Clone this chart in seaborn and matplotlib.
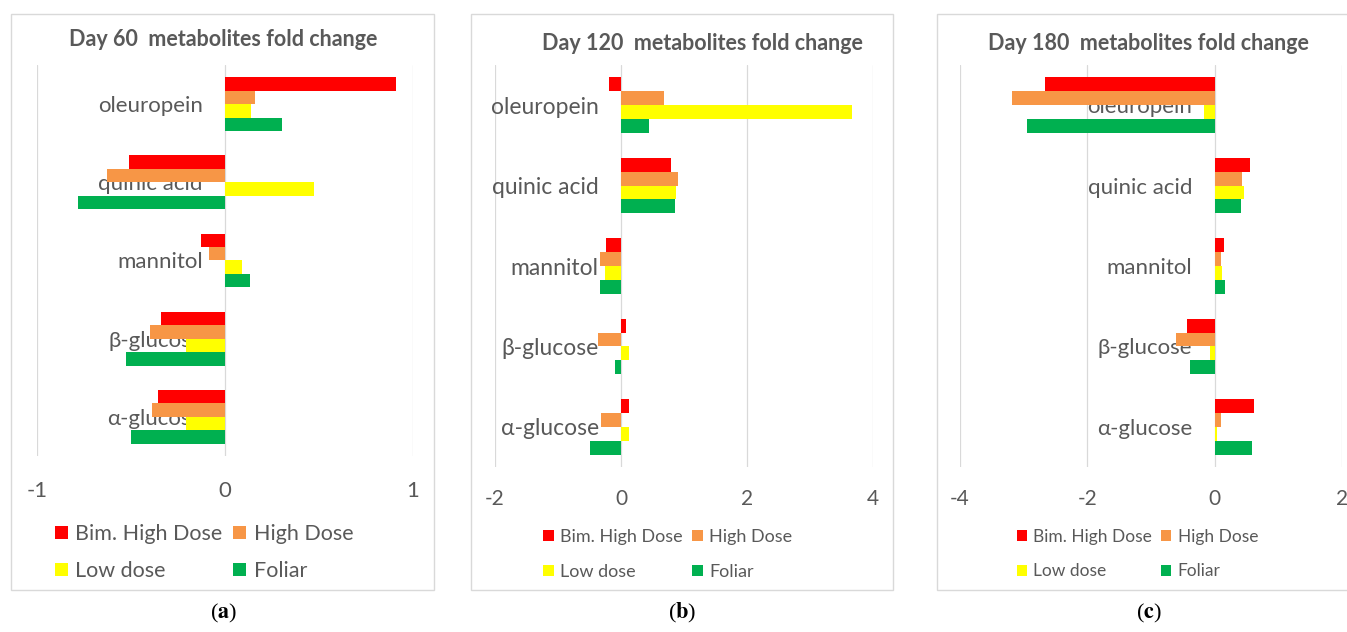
import numpy as np
import pandas as pd
import matplotlib
matplotlib.use("Agg")
import matplotlib.pyplot as plt
import seaborn as sns
from matplotlib.patches import Rectangle, Patch

# categories (top to bottom) and treatments
metabolites = ['oleuropein', 'quinic acid', 'mannitol', 'β-glucose', 'α-glucose']
treatments = ['Bim. High Dose', 'High Dose', 'Low dose', 'Foliar']
colors = ['#FF0000', '#F79646', '#FFFF00', '#00B050']

# Day 60 fold change
d60_bim = [0.91, -0.51, -0.13, -0.34, -0.355]
d60_high = [0.16, -0.63, -0.085, -0.40, -0.39]
d60_low = [0.14, 0.475, 0.09, -0.21, -0.21]
d60_foliar = [0.305, -0.78, 0.135, -0.525, -0.50]

# Day 120 fold change
d120_bim = [-0.19, 0.80, -0.24, 0.085, 0.12]
d120_high = [0.68, 0.91, -0.34, -0.36, -0.31]
d120_low = [3.66, 0.87, -0.25, 0.12, 0.12]
d120_foliar = [0.44, 0.86, -0.33, -0.095, -0.50]

# Day 180 fold change
d180_bim = [-2.67, 0.56, 0.15, -0.44, 0.62]
d180_high = [-3.18, 0.43, 0.095, -0.60, 0.105]
d180_low = [-0.16, 0.46, 0.115, -0.074, 0.04]
d180_foliar = [-2.94, 0.41, 0.17, -0.39, 0.59]

x_ticks_60 = [-1, 0, 1]
x_ticks_120 = [-2, 0, 2, 4]
x_ticks_180 = [-4, -2, 0, 2]

W, H = 1347, 632
TEXT = '#595959'
GRID = '#D9D9D9'

sns.set_theme(style="white")
plt.rcParams['font.family'] = ['Lato', 'DejaVu Sans']
plt.rcParams['mathtext.fontset'] = 'stix'


def make_frame(bim, high, low, foliar):
    return pd.DataFrame({
        'metabolite': metabolites * 4,
        'value': bim + high + low + foliar,
        'treatment': np.repeat(treatments, len(metabolites)),
    })


def px_axes(fig, x0, x1, y0, y1):
    # pixel box (top-left origin) -> figure fraction
    return fig.add_axes([x0 / W, 1 - y1 / H, (x1 - x0) / W, (y1 - y0) / H])


def draw_panel(fig, df, box, frame, xticks, title, title_xy, ylab_size,
               xlab_size, xpad, legend_xy, legend_size, legend_rows, letter, letter_x):
    fx0, fx1 = frame
    fig.patches.append(Rectangle((fx0 / W, 1 - 590 / H), (fx1 - fx0) / W, 576 / H,
                                 transform=fig.transFigure, facecolor='white',
                                 edgecolor=GRID, linewidth=1.0, zorder=-5))
    ax = px_axes(fig, *box)
    ax.set_facecolor('none')
    sns.barplot(data=df, x='value', y='metabolite', hue='treatment',
                order=metabolites, hue_order=treatments, palette=colors,
                orient='h', width=0.69, saturation=1, linewidth=0,
                errorbar=None, legend=False, ax=ax)
    ax.set_xlim(xticks[0], xticks[-1])
    ax.set_xticks(xticks)
    ax.set_xticklabels([str(t) for t in xticks])
    ax.grid(axis='x', color=GRID, linewidth=0.9)
    ax.set_axisbelow(True)
    for s in ax.spines.values():
        s.set_visible(False)
    ax.spines['left'].set_position(('data', 0))
    ax.tick_params(axis='y', length=0, pad=16, labelsize=ylab_size, labelcolor=TEXT)
    ax.tick_params(axis='x', length=0, pad=xpad, labelsize=xlab_size, labelcolor=TEXT)
    ax.set_xlabel('')
    ax.set_ylabel('')

    fig.text(title_xy[0] / W, 1 - title_xy[1] / H, title, ha='center', va='center',
             fontsize=15.5, fontweight='bold', color=TEXT)

    handles = [Patch(facecolor=c, edgecolor='none') for c in colors]
    order = [0, 2, 1, 3]
    fig.legend([handles[i] for i in order], [treatments[i] for i in order],
               loc='upper left', bbox_to_anchor=(legend_xy[0] / W, 1 - legend_xy[1] / H),
               ncol=2, frameon=False, fontsize=legend_size, labelcolor=TEXT,
               handlelength=0.6, handleheight=0.6, handletextpad=0.35,
               columnspacing=0.5, labelspacing=legend_rows, borderpad=0, borderaxespad=0)

    fig.text(letter_x / W, 1 - 613 / H, r'($\mathbf{' + letter + r'}$)', ha='center',
             va='center', fontsize=16, family='Liberation Serif', color='black')
    return ax


fig = plt.figure(figsize=(W / 100, H / 100), dpi=100)
fig.patch.set_facecolor('white')

draw_panel(fig, make_frame(d60_bim, d60_high, d60_low, d60_foliar),
           (37, 413, 65, 456), (11, 434), x_ticks_60,
           'Day 60  metabolites fold change', (223, 40), 16, 16, 18,
           (55, 524), 15.5, 0.8, 'a', 224)
draw_panel(fig, make_frame(d120_bim, d120_high, d120_low, d120_foliar),
           (495, 873, 65, 467), (471, 893), x_ticks_120,
           'Day 120  metabolites fold change', (702, 43), 16.5, 15, 16,
           (543, 529), 13, 1.05, 'b', 682)
draw_panel(fig, make_frame(d180_bim, d180_high, d180_low, d180_foliar),
           (960, 1342, 65, 467), (937, 1360), x_ticks_180,
           'Day 180  metabolites fold change', (1148, 43), 16, 15, 16,
           (1017, 529), 12.5, 1.05, 'c', 1149)

fig.savefig('out.png', dpi=100, facecolor='white')
